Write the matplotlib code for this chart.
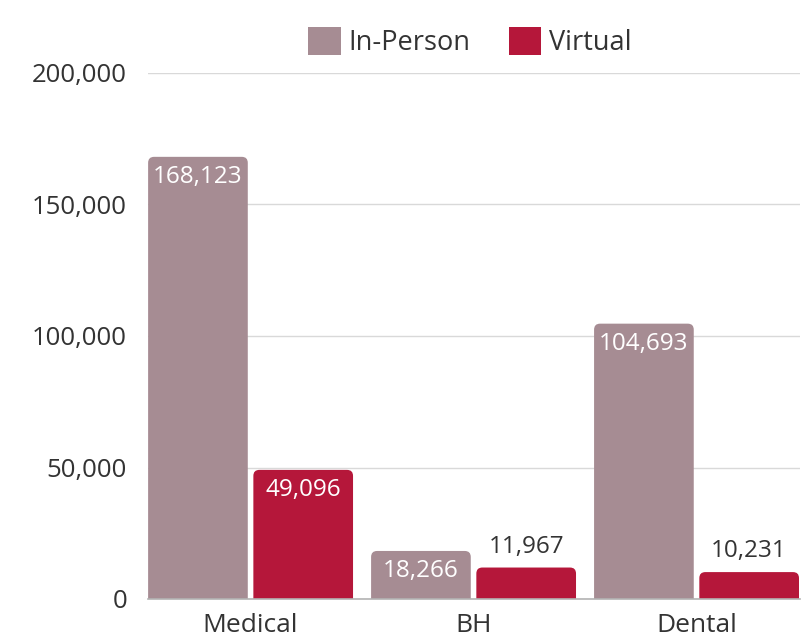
import matplotlib
matplotlib.use("Agg")
import matplotlib.pyplot as plt
from matplotlib.patches import FancyBboxPatch, Patch
from matplotlib.ticker import FuncFormatter
import numpy as np

categories = ["Medical", "BH", "Dental"]
in_person = [168123, 18266, 104693]
virtual = [49096, 11967, 10231]
series_names = ["In-Person", "Virtual"]
colors = ["#A68C93", "#B5173A"]
y_ticks = [0, 50000, 100000, 150000, 200000]

plt.rcParams['font.family'] = ['Open Sans', 'DejaVu Sans']
TEXT = "#333333"

fig = plt.figure(figsize=(8.03, 6.37), dpi=100)
W, H = 803, 637
ax = fig.add_axes([148 / W, 1 - 599 / H, (800 - 148) / W, (599 - 73) / H])

x = np.arange(len(categories))
width = 0.447
off = 0.236
ax.set_xlim(-0.46, 2.464)
ax.set_ylim(0, 200000)

bars_all = []
for vals, o, c in [(in_person, -off, colors[0]), (virtual, off, colors[1])]:
    bars = ax.bar(x + o, vals, width, color=c, zorder=2)
    bars_all.append((bars, vals, c))

# rounded tops
fig.canvas.draw()
px_per_x = ax.transData.transform((1, 0))[0] - ax.transData.transform((0, 0))[0]
px_per_y = ax.transData.transform((0, 1))[1] - ax.transData.transform((0, 0))[1]
r_px = 6
rx = r_px / px_per_x
ry = r_px / px_per_y
for bars, vals, c in bars_all:
    for b, v in zip(bars, vals):
        b.set_visible(False)
        bx, bw, bh = b.get_x(), b.get_width(), b.get_height()
        p = FancyBboxPatch((bx, -ry), bw, bh + ry,
                           boxstyle=f"round,pad=0,rounding_size={rx}",
                           mutation_aspect=ry / rx, facecolor=c, edgecolor='none', zorder=2)
        ax.add_patch(p)
        inside = bh * px_per_y > 40
        if inside:
            ax.annotate(f"{v:,}", (bx + bw / 2, bh), xytext=(0, -8), textcoords='offset pixels',
                        ha='center', va='top', color='white', fontsize=17.5, zorder=3)
        else:
            ax.annotate(f"{v:,}", (bx + bw / 2, bh), xytext=(0, 9), textcoords='offset pixels',
                        ha='center', va='bottom', color=TEXT, fontsize=17.5, zorder=3)

ax.set_yticks(y_ticks)
ax.yaxis.set_major_formatter(FuncFormatter(lambda v, p: f"{int(v):,}"))
ax.set_xticks(x)
ax.set_xticklabels(categories)
ax.tick_params(axis='y', length=0, pad=15, labelsize=18.5, labelcolor=TEXT)
ax.tick_params(axis='x', length=0, pad=10, labelsize=19, labelcolor=TEXT)
ax.grid(axis='y', color='#d9d9d9', linewidth=1, zorder=0)
ax.set_axisbelow(True)
for s in ['top', 'right', 'left']:
    ax.spines[s].set_visible(False)
ax.spines['bottom'].set_color('#b3b3b3')
ax.spines['bottom'].set_linewidth(1.2)
ax.spines['bottom'].set_zorder(4)

handles = [Patch(facecolor=colors[0], label=series_names[0]),
           Patch(facecolor=colors[1], label=series_names[1])]
fig.legend(handles=handles, loc='center', bbox_to_anchor=(470 / W, 1 - 42 / H), ncol=2,
           frameon=False, fontsize=19.5, handlelength=1.2, handleheight=1.2,
           handletextpad=0.3, columnspacing=1.4, labelcolor=TEXT)

fig.savefig("out.png", dpi=100)
